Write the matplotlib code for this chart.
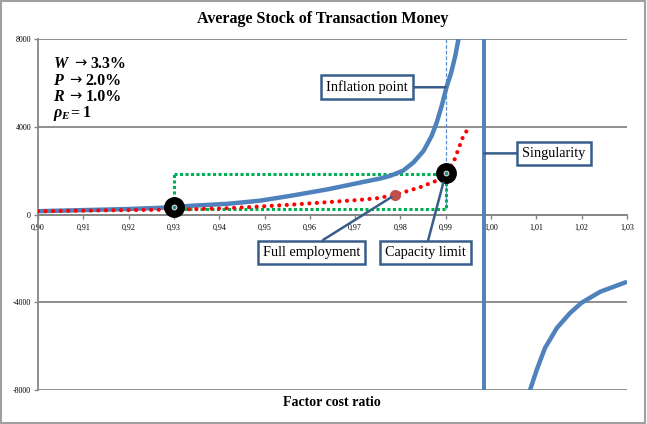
import matplotlib
matplotlib.use('Agg')
import matplotlib.pyplot as plt
from matplotlib.patches import Rectangle

plt.rcParams['font.family'] = ['Liberation Serif', 'DejaVu Serif']
plt.rcParams['mathtext.fontset'] = 'custom'
plt.rcParams['mathtext.rm'] = 'Liberation Serif:bold'
plt.rcParams['mathtext.it'] = 'Liberation Serif:italic:bold'
plt.rcParams['mathtext.bf'] = 'Liberation Serif:bold'

# ---------------- data ----------------
blue_left_x = [0.900, 0.910, 0.920, 0.927, 0.934, 0.942, 0.949, 0.956, 0.964, 0.971,
               0.9755, 0.9777, 0.9806, 0.9829, 0.9851, 0.9869, 0.9880, 0.9891,
               0.9902, 0.9912, 0.9921, 0.9928, 0.9934]
blue_left_y = [150, 200, 250, 305, 400, 490, 630, 860, 1150, 1450,
               1640, 1760, 2000, 2380, 2900, 3590, 4195, 4950,
               5830, 6470, 7230, 7990, 8700]
blue_right_x = [1.0076, 1.0086, 1.0101, 1.0119, 1.0145, 1.0174, 1.0200, 1.0241, 1.0300]
blue_right_y = [-8700, -8000, -7067, -6084, -5178, -4498, -4018, -3520, -3067]

red_x = [0.900, 0.910, 0.920, 0.9314, 0.9417, 0.949, 0.9564, 0.9637, 0.9711, 0.9748,
         0.9788, 0.9843, 0.9876, 0.9899, 0.9917, 0.9928, 0.9939, 0.9948]
red_y = [150, 175, 200, 227, 286, 364, 455, 559, 668, 741,
         895, 1241, 1513, 1900, 2377, 2986, 3591, 3863]

singularity_x = 0.9985
capacity_x = 0.99
full_emp = (0.9788, 895)
circle_pts_x = [0.930, 0.990]
circle_pts_y = [320, 1870]
green_x = [0.93, 0.99, 0.99, 0.93, 0.93]
green_y = [1860, 1860, 235, 235, 1860]
inflation_y = 5800

xticks = [0.90, 0.91, 0.92, 0.93, 0.94, 0.95, 0.96, 0.97, 0.98, 0.99, 1.00, 1.01, 1.02, 1.03]
xtick_labels = ['0,90', '0,91', '0,92', '0,93', '0,94', '0,95', '0,96', '0,97', '0,98',
                '0,99', '1,00', '1,01', '1,02', '1,03']
yticks = [-8000, -4000, 0, 4000, 8000]
ytick_labels = ['-8000', '-4000', '0', '4000', '8000']

param_syms = [r'$W$', r'$P$', r'$R$', r'$\rho_E$']
param_ops = ['\u2192', '\u2192', '\u2192', '=']
param_vals = ['3.3%', '2.0%', '1.0%', '1']

# ---------------- style ----------------
BLUE = '#4F81BD'
BOXC = '#385D8A'
GRID = '#868686'

fig = plt.figure(figsize=(6.47, 4.24), dpi=100)
ax = fig.add_axes([38/647, 1-390/424, 589/647, 351/424])
ax.set_xlim(0.90, 1.03)
ax.set_ylim(-8000, 8000)

for s in ['top', 'right']:
    ax.spines[s].set_visible(False)
ax.spines['left'].set_color(GRID)
ax.spines['left'].set_linewidth(1.3)
ax.spines['bottom'].set_position(('data', 0))
ax.spines['bottom'].set_color(GRID)
ax.spines['bottom'].set_linewidth(1.3)
ax.yaxis.grid(True, color=GRID, lw=1.3)
ax.set_axisbelow(True)

ax.set_xticks(xticks)
ax.set_xticklabels(xtick_labels)
ax.set_yticks(yticks)
ax.set_yticklabels(ytick_labels)
ax.tick_params(axis='x', direction='out', length=3, width=1, color=GRID,
               labelsize=5.8, pad=4)
ax.tick_params(axis='y', direction='out', length=3, width=1, color=GRID,
               labelsize=5.8, pad=2)

# curves
ax.plot(blue_left_x, blue_left_y, color=BLUE, lw=3.2, solid_capstyle='butt',
        solid_joinstyle='round', zorder=3)
ax.plot(blue_right_x, blue_right_y, color=BLUE, lw=3.2, solid_capstyle='butt',
        solid_joinstyle='round', zorder=3)
ax.plot([singularity_x, singularity_x], [-8000, 8000], color=BLUE, lw=2.8, zorder=3)
ax.plot([capacity_x, capacity_x], [8000, green_y[2]], color='#5B8FD0', lw=0.9,
        ls=(0, (3, 1.5)), zorder=2)
ax.plot(green_x, green_y, color='#00B050', lw=2.2, ls=(0, (1, 0.8)),
        dash_capstyle='butt', zorder=2)
ax.plot(red_x, red_y, color='#FF0000', lw=3.0, ls=(0, (0.01, 1.8)),
        dash_capstyle='round', zorder=4)
ax.plot([full_emp[0]], [full_emp[1]], 'o', color='#C0504D', ms=7, zorder=5)
ax.plot(circle_pts_x, circle_pts_y, 'o', color='black', ms=14, zorder=6)
ax.plot(circle_pts_x, circle_pts_y, 'o', color='#2E8B8B', mec='white', mew=0.6,
        ms=3.5, zorder=7)

# callouts
bbox = dict(boxstyle='square,pad=0.35', fc='white', ec=BOXC, lw=1.8)
arrow = dict(arrowstyle='-', color=BOXC, lw=1.8, shrinkA=0, shrinkB=0)

ax.annotate('Inflation point', xy=(capacity_x, inflation_y), xytext=(0.9726, inflation_y),
            ha='center', va='center', fontsize=10.3, bbox=bbox,
            arrowprops=dict(arrow, relpos=(1, 0.5)), zorder=8)
ax.annotate('Singularity', xy=(singularity_x, 2786), xytext=(1.0139, 2786),
            ha='center', va='center', fontsize=10.3, bbox=bbox,
            arrowprops=dict(arrow, relpos=(0, 0.5)), zorder=8)
ax.annotate('Full employment', xy=full_emp, xytext=(0.9604, -1727),
            ha='center', va='center', fontsize=10.3, bbox=bbox,
            arrowprops=dict(arrow, relpos=(0.52, 1.0), shrinkB=3), zorder=8)
ax.annotate('Capacity limit', xy=(circle_pts_x[1], circle_pts_y[1]), xytext=(0.9856, -1727),
            ha='center', va='center', fontsize=10.3, bbox=bbox,
            arrowprops=dict(arrow, relpos=(0.51, 1.0), shrinkB=7), zorder=8)

# parameter text (baseline-aligned pieces)
fig.canvas.draw()
renderer = fig.canvas.get_renderer()
inv = ax.transAxes.inverted()
base_ys = [0.9168, 0.8692, 0.8245, 0.7789]
for sym, op, val, yy in zip(param_syms, param_ops, param_vals, base_ys):
    t1 = ax.text(0.0255, yy, sym, transform=ax.transAxes, fontsize=11.5,
                 va='baseline', ha='left')
    x1 = inv.transform(t1.get_window_extent(renderer))[1][0]
    if op == '\u2192':
        t2 = ax.text(x1 + 0.007, yy + 0.001, op, transform=ax.transAxes, fontsize=10.5,
                     va='baseline', ha='left', family=['DejaVu Sans'])
        gap = 0.007
    else:
        t2 = ax.text(x1 - 0.001, yy, op, transform=ax.transAxes, fontsize=11.5,
                     va='baseline', ha='left', fontweight='bold')
        gap = 0.006
    x2 = inv.transform(t2.get_window_extent(renderer))[1][0]
    ax.text(x2 + gap, yy, val, transform=ax.transAxes, fontsize=11.5,
            va='baseline', ha='left', fontweight='bold')

fig.text(0.499, 1-19/424, 'Average Stock of Transaction Money', ha='center', va='center',
         fontsize=11.5, fontweight='bold')
fig.text(332/647, 1-402/424, 'Factor cost ratio', ha='center', va='center',
         fontsize=10, fontweight='bold')

fig.patches.append(Rectangle((0.002, 0.003), 0.995, 0.994, transform=fig.transFigure,
                             fill=False, ec='#A0A0A0', lw=1.5))

fig.savefig('out.png', dpi=100)
